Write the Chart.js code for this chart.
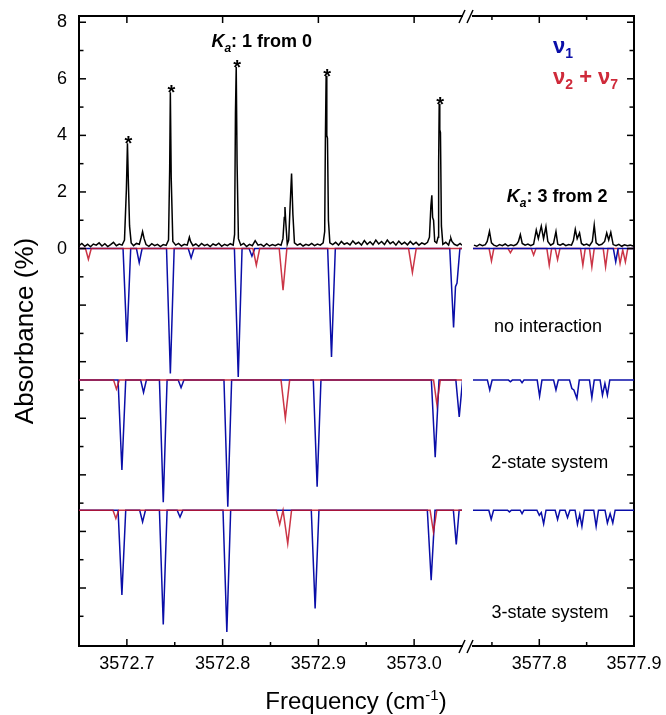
<!DOCTYPE html>
<html>
<head>
<meta charset="utf-8">
<script src="https://cdn.jsdelivr.net/npm/chart.js@4.4.1/dist/chart.umd.min.js"></script>
<style>
  body { margin: 0; background: #fff; }
  #wrap { position: relative; width: 666px; height: 715px; overflow: hidden; }
  canvas { position: absolute; top: 0; }
  #left { left: 0; }
  #right { left: 462px; }
  #xtitle { position: absolute; left: 0; width: 712px; top: 689px; text-align: center;
            font: 24px "Liberation Sans", Arial, sans-serif; line-height: 24px; color: #000; }
  #xtitle sup { font-size: 15px; line-height: 0; vertical-align: 9px; }
</style>
</head>
<body>
<div id="wrap">
  <canvas id="left" width="480" height="715"></canvas>
  <canvas id="right" width="204" height="715"></canvas>
  <div id="xtitle">Frequency (cm<sup>-1</sup>)</div>
</div>
<script>
// ---- axes ----
const xLeftMin = 3572.65, xLeftMax = 3573.05;
const xRightMin = 3577.73, xRightMax = 3577.90;
const yMin = -14.05, yMax = 8.22;

const xTicksLeft = [3572.7, 3572.8, 3572.9, 3573.0];
const xMinorLeft = [3572.75, 3572.85, 3572.95];
const xTicksRight = [3577.8, 3577.9];
const xMinorRight = [3577.75, 3577.85];
const yTicks = [0, 2, 4, 6, 8];
const yLong = [-12, -10, -8, -6, -4, -2, 0, 2, 4, 6, 8];
const yShort = [-13, -11, -9, -7, -5, -3, -1, 1, 3, 5, 7];

// vertical offsets of the three simulations
const offsets = [0, -4.65, -9.25];

// ---- experiment (black) ----
const expLeft = [
  [3572.650,0.10],[3572.653,0.18],[3572.656,0.08],[3572.659,0.15],[3572.662,0.06],[3572.665,0.16],
  [3572.668,0.12],[3572.671,0.20],[3572.674,0.09],[3572.677,0.17],[3572.680,0.07],[3572.683,0.14],
  [3572.686,0.22],[3572.689,0.10],[3572.692,0.16],[3572.695,0.12],[3572.6975,0.30],[3572.6995,2.10],
  [3572.7006,3.72],[3572.7016,2.30],[3572.7028,0.80],[3572.7045,0.20],[3572.707,0.10],[3572.710,0.18],
  [3572.713,0.15],[3572.715,0.40],[3572.7164,0.60],[3572.718,0.35],[3572.720,0.14],[3572.723,0.08],
  [3572.726,0.17],[3572.729,0.10],[3572.732,0.15],[3572.735,0.07],[3572.738,0.14],[3572.741,0.11],
  [3572.7435,0.30],[3572.7447,2.80],[3572.7454,5.52],[3572.7463,2.50],[3572.748,0.25],[3572.751,0.12],
  [3572.754,0.18],[3572.757,0.09],[3572.760,0.15],[3572.763,0.12],[3572.7645,0.30],[3572.7653,0.40],
  [3572.7665,0.25],[3572.769,0.10],[3572.772,0.16],[3572.775,0.08],[3572.778,0.18],[3572.781,0.10],
  [3572.784,0.15],[3572.787,0.07],[3572.790,0.16],[3572.793,0.11],[3572.796,0.19],[3572.799,0.08],
  [3572.802,0.15],[3572.805,0.10],[3572.808,0.17],[3572.811,0.12],[3572.8125,0.50],[3572.8134,4.80],
  [3572.8142,6.42],[3572.8151,3.00],[3572.8165,0.35],[3572.819,0.12],[3572.822,0.18],[3572.825,0.07],
  [3572.828,0.15],[3572.831,0.10],[3572.834,0.28],[3572.837,0.12],[3572.840,0.15],[3572.843,0.08],
  [3572.846,0.17],[3572.849,0.09],[3572.852,0.14],[3572.855,0.10],[3572.858,0.16],[3572.861,0.12],
  [3572.863,0.35],[3572.8644,1.10],[3572.8651,1.47],[3572.8660,0.90],[3572.8675,0.15],[3572.869,0.30],
  [3572.8706,1.60],[3572.8720,2.65],[3572.8734,1.20],[3572.875,0.20],[3572.878,0.12],[3572.881,0.17],
  [3572.884,0.09],[3572.887,0.15],[3572.890,0.11],[3572.893,0.18],[3572.896,0.10],[3572.899,0.16],
  [3572.902,0.12],[3572.905,0.20],[3572.9066,0.60],[3572.9073,3.80],[3572.9081,6.11],[3572.9088,4.00],
  [3572.9095,3.90],[3572.9105,1.00],[3572.912,0.20],[3572.915,0.14],[3572.918,0.22],[3572.921,0.12],
  [3572.924,0.25],[3572.927,0.15],[3572.930,0.20],[3572.933,0.13],[3572.936,0.27],[3572.939,0.16],
  [3572.942,0.22],[3572.945,0.12],[3572.948,0.28],[3572.951,0.15],[3572.954,0.24],[3572.957,0.13],
  [3572.960,0.30],[3572.963,0.16],[3572.966,0.25],[3572.969,0.14],[3572.972,0.30],[3572.975,0.17],
  [3572.978,0.24],[3572.981,0.12],[3572.984,0.26],[3572.987,0.15],[3572.990,0.22],[3572.993,0.13],
  [3572.996,0.25],[3572.999,0.14],[3573.002,0.22],[3573.005,0.12],[3573.008,0.20],[3573.011,0.15],
  [3573.014,0.22],[3573.016,0.40],[3573.0175,1.50],[3573.0185,1.88],[3573.0193,1.10],[3573.0203,1.00],
  [3573.0215,0.25],[3573.0235,0.20],[3573.0250,0.40],[3573.0256,3.00],[3573.0262,5.12],[3573.0268,4.20],
  [3573.0275,4.10],[3573.0285,0.80],[3573.030,0.15],[3573.033,0.22],[3573.036,0.12],[3573.0375,0.30],
  [3573.0384,0.36],[3573.0395,0.25],[3573.042,0.15],[3573.045,0.10],[3573.048,0.18],[3573.050,0.12]
];
const expRight = [
  [3577.731,0.12],[3577.734,0.08],[3577.737,0.15],[3577.740,0.10],[3577.743,0.14],[3577.745,0.25],
  [3577.7474,0.61],[3577.7495,0.20],[3577.752,0.12],[3577.755,0.08],[3577.758,0.14],[3577.761,0.10],
  [3577.764,0.16],[3577.767,0.09],[3577.770,0.13],[3577.773,0.10],[3577.776,0.15],[3577.778,0.25],
  [3577.780,0.49],[3577.782,0.18],[3577.785,0.12],[3577.788,0.16],[3577.791,0.10],[3577.794,0.15],
  [3577.7968,0.65],[3577.799,0.35],[3577.8021,0.79],[3577.8045,0.35],[3577.807,0.77],[3577.809,0.25],
  [3577.812,0.12],[3577.815,0.18],[3577.8176,0.60],[3577.8195,0.15],[3577.822,0.12],[3577.825,0.17],
  [3577.828,0.10],[3577.831,0.14],[3577.834,0.12],[3577.836,0.28],[3577.838,0.68],[3577.840,0.35],
  [3577.8425,0.55],[3577.8445,0.18],[3577.847,0.12],[3577.850,0.16],[3577.853,0.10],[3577.856,0.25],
  [3577.858,0.83],[3577.860,0.20],[3577.863,0.12],[3577.866,0.15],[3577.869,0.25],[3577.8712,0.55],
  [3577.8733,0.30],[3577.8755,0.57],[3577.878,0.14],[3577.881,0.10],[3577.884,0.15],[3577.887,0.08],
  [3577.890,0.13],[3577.893,0.10],[3577.896,0.12],[3577.899,0.09]
];
// starred peaks [x, height]
const stars = [[3572.7006,3.72],[3572.7454,5.52],[3572.8142,6.42],[3572.9081,6.11],[3573.0262,5.12]];

// ---- simulations, depth relative to own baseline ----
// no interaction
const blue1L = [
  [3572.650,0],[3572.696,0],[3572.700,-3.30],[3572.704,0],[3572.710,0],[3572.7129,-0.50],[3572.7159,0],
  [3572.7414,0],[3572.7454,-4.42],[3572.7494,0],[3572.7641,0],[3572.7671,-0.33],[3572.7701,0],
  [3572.8123,0],[3572.8163,-4.54],[3572.8203,0],[3572.8276,0],[3572.8306,-0.27],[3572.8336,0],
  [3572.9097,0],[3572.9137,-3.83],[3572.9177,0],[3573.0372,0],[3573.0412,-2.79],[3573.0432,-1.35],
  [3573.0448,-1.22],[3573.0478,0],[3573.050,0]
];
const red1L = [
  [3572.650,0],[3572.6568,0],[3572.6598,-0.38],[3572.6628,0],[3572.8317,0],[3572.8352,-0.59],[3572.8387,0],
  [3572.8591,0],[3572.8631,-1.47],[3572.8671,0],[3572.9942,0],[3572.9982,-0.85],[3573.0022,0],[3573.050,0]
];
const blue1R = [[3577.730,0],[3577.8782,0],[3577.8807,-0.47],[3577.8832,0],[3577.900,0]];
const red1R = [
  [3577.730,0],[3577.747,0],[3577.7495,-0.44],[3577.752,0],[3577.767,0],[3577.7695,-0.15],[3577.772,0],
  [3577.7915,0],[3577.794,-0.23],[3577.7965,0],[3577.808,0],[3577.8105,-0.59],[3577.813,0],
  [3577.8168,0],[3577.8193,-0.39],[3577.8218,0],[3577.8435,0],[3577.846,-0.59],[3577.8485,0],
  [3577.853,0],[3577.8555,-0.65],[3577.858,0],[3577.8675,0],[3577.870,-0.65],[3577.8725,0],
  [3577.8828,0],[3577.8853,-0.53],[3577.8881,-0.05],[3577.8909,-0.47],[3577.8934,0],[3577.900,0]
];
// 2-state system
const blue2L = [
  [3572.650,0],[3572.6908,0],[3572.6948,-3.18],[3572.6988,0],[3572.7144,0],[3572.7174,-0.44],[3572.7204,0],
  [3572.734,0],[3572.738,-4.32],[3572.742,0],[3572.7536,0],[3572.7566,-0.27],[3572.7596,0],
  [3572.8014,0],[3572.8054,-4.48],[3572.8094,0],[3572.8947,0],[3572.8987,-3.77],[3572.9027,0],
  [3573.018,0],[3573.022,-2.73],[3573.026,0],[3573.0436,0],[3573.0471,-1.30],[3573.0506,0]
];
const red2L = [
  [3572.650,0],[3572.6861,0],[3572.6891,-0.32],[3572.6921,0],[3572.8610,0],[3572.8655,-1.35],[3572.8700,0],
  [3573.0203,0],[3573.0238,-0.86],[3573.0273,0],[3573.050,0]
];
const blue2R = [
  [3577.730,0],[3577.7452,0],[3577.7477,-0.35],[3577.7502,0],[3577.7675,0],[3577.7695,-0.06],[3577.7715,0],
  [3577.7798,0],[3577.7818,-0.09],[3577.7838,0],[3577.7978,0],[3577.8003,-0.57],[3577.8028,0],
  [3577.8151,0],[3577.8176,-0.35],[3577.8201,0],[3577.8319,0],[3577.8344,-0.30],[3577.8365,-0.35],
  [3577.8397,-0.65],[3577.8422,0],[3577.853,0],[3577.8555,-0.62],[3577.858,0],[3577.8642,0],
  [3577.8667,-0.53],[3577.8693,-0.12],[3577.8719,-0.53],[3577.8744,0],[3577.900,0]
];
// 3-state system
const blue3L = [
  [3572.650,0],[3572.6908,0],[3572.6948,-3.00],[3572.6988,0],[3572.7134,0],[3572.7164,-0.41],[3572.7194,0],
  [3572.734,0],[3572.738,-4.04],[3572.742,0],[3572.7525,0],[3572.7555,-0.24],[3572.7585,0],
  [3572.8004,0],[3572.8044,-4.30],[3572.8084,0],[3572.8926,0],[3572.8966,-3.47],[3572.9006,0],
  [3573.0138,0],[3573.0178,-2.47],[3573.0218,0],[3573.041,0],[3573.044,-1.21],[3573.047,0],[3573.050,0]
];
const red3L = [
  [3572.650,0],[3572.6855,0],[3572.6885,-0.29],[3572.6915,0],[3572.8561,0],[3572.8596,-0.50],[3572.8631,0],
  [3572.8640,0],[3572.868,-1.18],[3572.8720,0],[3573.0167,0],[3573.0202,-0.77],[3573.0237,0],[3573.050,0]
];
const blue3R = [
  [3577.730,0],[3577.7467,0],[3577.7492,-0.32],[3577.7517,0],[3577.7665,0],[3577.7685,-0.06],[3577.7705,0],
  [3577.7798,0],[3577.7818,-0.12],[3577.7838,0],[3577.7975,0],[3577.800,-0.18],[3577.8021,-0.08],
  [3577.8046,-0.48],[3577.8071,0],[3577.8168,0],[3577.8193,-0.33],[3577.8218,0],[3577.8273,0],
  [3577.8298,-0.26],[3577.8323,0],[3577.8378,0],[3577.8403,-0.50],[3577.8427,-0.15],[3577.845,-0.57],
  [3577.8475,0],[3577.8575,0],[3577.860,-0.57],[3577.8625,0],[3577.8694,0],[3577.8719,-0.45],
  [3577.8748,-0.12],[3577.8776,-0.45],[3577.8801,0],[3577.900,0]
];

const FF = '"Liberation Sans", Arial, Helvetica, sans-serif';
const BLUE = '#0a0ea8';
const RED = 'rgba(195,20,40,0.86)';
const RED_TXT = '#cf2a3a';
Chart.defaults.font.family = FF;
Chart.defaults.color = '#000';

function line(pts, off, color, order) {
  return {
    data: pts.map(p => ({ x: p[0], y: p[1] + off })),
    borderColor: color, borderWidth: 1.5, pointRadius: 0, tension: 0, fill: false, order: order
  };
}

// inward ticks, top frame, axis break
const deco = {
  id: 'deco',
  afterDraw(chart, args, o) {
    const { ctx, chartArea: a, scales: { x, y } } = chart;
    ctx.save();
    ctx.strokeStyle = '#000';
    const seg = (x1, y1, x2, y2) => { ctx.beginPath(); ctx.moveTo(x1, y1); ctx.lineTo(x2, y2); ctx.stroke(); };
    ctx.lineWidth = 2;
    seg(a.left - 1, a.top, a.right + 1, a.top);
    ctx.lineWidth = 1.5;
    o.xMajor.forEach(v => {
      const p = x.getPixelForValue(v);
      seg(p, a.bottom, p, a.bottom - 7);
      seg(p, a.top, p, a.top + 7);
    });
    o.xMinor.forEach(v => {
      const p = x.getPixelForValue(v);
      seg(p, a.bottom, p, a.bottom - 4);
      if (o.topMinor) seg(p, a.top, p, a.top + 4);
    });
    const ex = o.side === 'left' ? a.left : a.right;
    const dir = o.side === 'left' ? 1 : -1;
    yLong.forEach(v => { const p = y.getPixelForValue(v); seg(ex, p, ex + dir * 7, p); });
    yShort.forEach(v => { const p = y.getPixelForValue(v); seg(ex, p, ex + dir * 4.5, p); });
    if (o.brk) {
      ctx.lineWidth = 1.5;
      [a.top, a.bottom].forEach(yc => {
        seg(a.right - 3, yc + 7, a.right + 3, yc - 6);
        seg(a.right + 5, yc + 7, a.right + 11, yc - 6);
      });
    }
    ctx.restore();
  }
};

// text notes drawn as runs (for italics and subscripts)
const notes = {
  id: 'notes',
  afterDatasetsDraw(chart, args, o) {
    const { ctx, scales: { x, y } } = chart;
    ctx.save();
    ctx.textBaseline = 'alphabetic';
    (o.items || []).forEach(it => {
      let w = 0;
      it.runs.forEach(r => { ctx.font = r.f; w += ctx.measureText(r.t).width; });
      let px = x.getPixelForValue(it.x);
      const py = y.getPixelForValue(it.y);
      if (it.align === 'center') px -= w / 2;
      ctx.textAlign = 'left';
      it.runs.forEach(r => {
        ctx.font = r.f;
        ctx.fillStyle = r.c || '#000';
        ctx.fillText(r.t, px, py + (r.dy || 0));
        px += ctx.measureText(r.t).width;
      });
    });
    (o.stars || []).forEach(s => {
      ctx.font = 'bold 20px ' + FF;
      ctx.fillStyle = '#000';
      ctx.textAlign = 'center';
      ctx.fillText('*', x.getPixelForValue(s[0]) + 1, y.getPixelForValue(s[1]) + 7);
    });
    ctx.restore();
  }
};

function xScale(min, max, ticks) {
  return {
    type: 'linear', min: min, max: max, bounds: 'data',
    afterBuildTicks: s => { s.ticks = ticks.map(v => ({ value: v })); },
    afterFit: s => { s.height = 69; s.paddingLeft = 0; s.paddingRight = 0; },
    grid: { drawOnChartArea: false, drawTicks: false },
    border: { color: '#000', width: 2 },
    ticks: { padding: 7, color: '#000', font: { size: 18 }, maxRotation: 0, autoSkip: false,
             callback: v => Number(v).toFixed(1) }
  };
}

const bold = s => 'bold ' + s + 'px ' + FF;

new Chart(document.getElementById('left'), {
  type: 'line',
  data: {
    datasets: [
      line(expLeft, 0, '#000', 0),
      line(red1L, offsets[0], RED, 1),
      line(red2L, offsets[1], RED, 1),
      line(red3L, offsets[2], RED, 1),
      line(blue1L, offsets[0], BLUE, 2),
      line(blue2L, offsets[1], BLUE, 2),
      line(blue3L, offsets[2], BLUE, 2)
    ]
  },
  options: {
    responsive: false, animation: false,
    layout: { padding: { top: 16, right: 18, left: 0, bottom: 0 } },
    plugins: {
      legend: { display: false }, tooltip: { enabled: false },
      deco: { side: 'left', xMajor: xTicksLeft, xMinor: xMinorLeft, topMinor: false, brk: true },
      notes: {
        items: [
          { x: 3572.7883, y: 7.11, runs: [
            { t: 'K', f: 'italic bold 18px ' + FF },
            { t: 'a', f: 'italic bold 12px ' + FF, dy: 5 },
            { t: ': 1 from 0', f: bold(18) } ] }
        ],
        stars: stars
      }
    },
    scales: {
      x: xScale(xLeftMin, xLeftMax, xTicksLeft),
      y: {
        type: 'linear', min: yMin, max: yMax, bounds: 'data',
        afterBuildTicks: s => { s.ticks = yTicks.map(v => ({ value: v })); },
        afterFit: s => { s.width = 79; s.paddingTop = 0; s.paddingBottom = 0; },
        grid: { drawOnChartArea: false, drawTicks: false },
        border: { color: '#000', width: 2 },
        ticks: { padding: 12, color: '#000', font: { size: 18 }, callback: v => String(v) },
        title: { display: true, text: 'Absorbance (%)', color: '#000', font: { size: 26 },
                 padding: { top: 10, bottom: 0 } }
      }
    }
  },
  plugins: [deco, notes]
});

new Chart(document.getElementById('right'), {
  type: 'line',
  data: {
    datasets: [
      line(expRight, 0, '#000', 0),
      line(blue1R, offsets[0], BLUE, 1),
      line(blue2R, offsets[1], BLUE, 1),
      line(blue3R, offsets[2], BLUE, 1),
      line(red1R, offsets[0], RED, 2)
    ]
  },
  options: {
    responsive: false, animation: false,
    layout: { padding: { top: 16, right: 0, left: 11, bottom: 0 } },
    plugins: {
      legend: { display: false }, tooltip: { enabled: false },
      deco: { side: 'right', xMajor: xTicksRight, xMinor: xMinorRight, topMinor: true, brk: false },
      notes: {
        items: [
          { x: 3577.8145, y: 6.92, runs: [
            { t: 'ν', f: bold(22), c: BLUE }, { t: '1', f: bold(14), c: BLUE, dy: 5 } ] },
          { x: 3577.8145, y: 5.83, runs: [
            { t: 'ν', f: bold(22), c: RED_TXT }, { t: '2', f: bold(14), c: RED_TXT, dy: 5 },
            { t: ' + ν', f: bold(22), c: RED_TXT }, { t: '7', f: bold(14), c: RED_TXT, dy: 5 } ] },
          { x: 3577.7656, y: 1.65, runs: [
            { t: 'K', f: 'italic bold 18px ' + FF },
            { t: 'a', f: 'italic bold 12px ' + FF, dy: 5 },
            { t: ': 3 from 2', f: bold(18) } ] },
          { x: 3577.8092, y: -2.95, align: 'center', runs: [{ t: 'no interaction', f: '18px ' + FF }] },
          { x: 3577.8110, y: -7.77, align: 'center', runs: [{ t: '2-state system', f: '18px ' + FF }] },
          { x: 3577.8113, y: -13.07, align: 'center', runs: [{ t: '3-state system', f: '18px ' + FF }] }
        ]
      }
    },
    scales: {
      x: xScale(xRightMin, xRightMax, xTicksRight),
      y: {
        type: 'linear', position: 'right', min: yMin, max: yMax, bounds: 'data',
        afterBuildTicks: s => { s.ticks = yTicks.map(v => ({ value: v })); },
        afterFit: s => { s.width = 32; s.paddingTop = 0; s.paddingBottom = 0; },
        grid: { drawOnChartArea: false, drawTicks: false },
        border: { color: '#000', width: 2 },
        ticks: { display: false }
      }
    }
  },
  plugins: [deco, notes]
});
</script>
</body>
</html>
